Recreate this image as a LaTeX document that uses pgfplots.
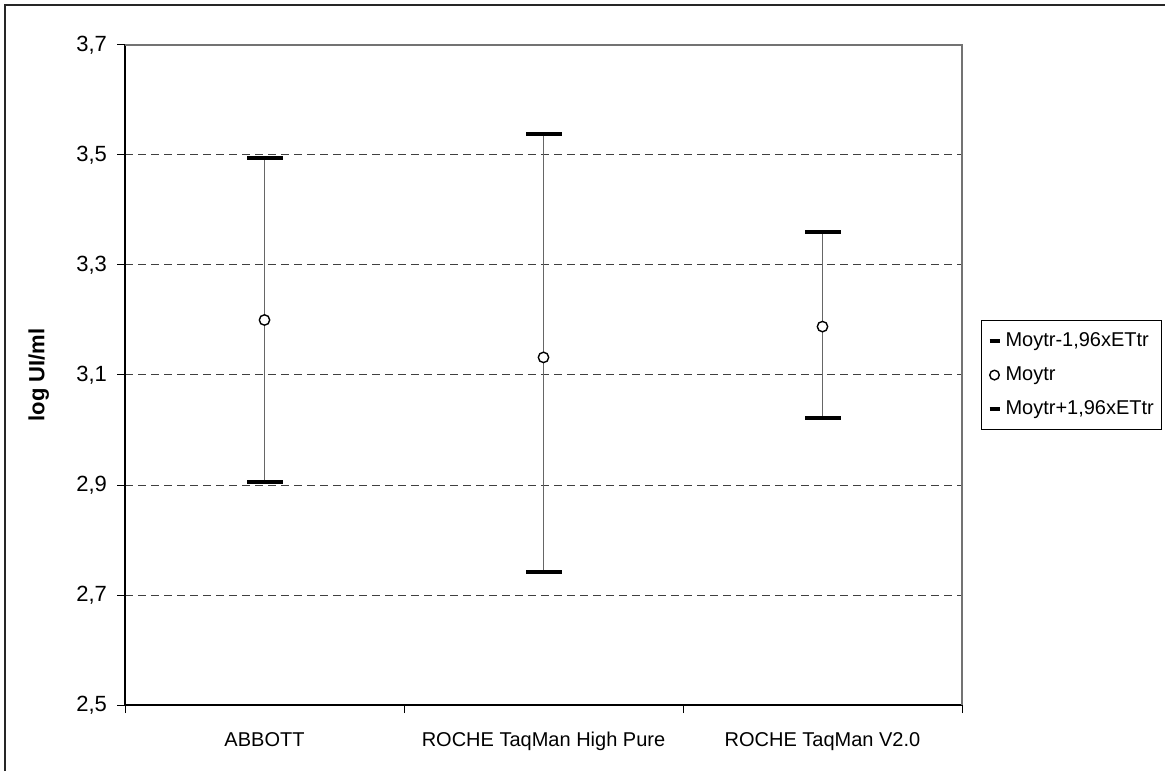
\documentclass[border=0pt]{standalone}
\usepackage{fontspec}
\setmainfont{Liberation Sans}
\usepackage{pgfplots}
\usepackage{pgfplotstable}
\pgfplotsset{compat=1.18}
\pgfplotstableread{
x lo mean hi ep em
0 2.906 3.200 3.495 0.295 0.294
1 2.742 3.132 3.539 0.407 0.390
2 3.021 3.188 3.360 0.172 0.167
}\data
\begin{document}
\begin{tikzpicture}[x=1pt,y=1pt]
\path[use as bounding box] (0,0) rectangle (582.5,385.5);
\draw[line width=0.8pt, black!85] (2.5,0) -- (2.5,383) -- (582.5,383);
\begin{axis}[
  at={(62.5pt,33pt)}, anchor=south west,
  scale only axis, width=418.5pt, height=330pt,
  xmin=-0.5, xmax=2.5, ymin=2.5, ymax=3.7,
  axis x line=bottom, axis y line=left,
  axis line style={-, black, line width=0.6pt},
  tick align=outside,
  major tick length=4pt,
  xtick={-0.5,0.5,1.5,2.5}, xticklabels={},
  tick style={black, line width=0.5pt},
  extra x ticks={0,1,2},
  extra x tick labels={ABBOTT, ROCHE TaqMan High Pure, ROCHE TaqMan V2.0},
  extra x tick style={tick style={draw=none},
    ticklabel style={yshift=-6pt}},
  xticklabel style={font=\fontsize{10}{12}\selectfont},
  ytick={2.5,2.7,2.9,3.1,3.3,3.5,3.7},
  yticklabel style={font=\fontsize{11}{13}\selectfont, xshift=-1.5pt,
    /pgf/number format/.cd, fixed, fixed zerofill, precision=1, use comma, assume math mode=true},
  ymajorgrids,
  grid style={black!75, line width=0.5pt, dash pattern=on 4pt off 2.5pt},
  ylabel={\bfseries log UI/ml},
  ylabel style={font=\fontsize{11}{13}\selectfont, at={(axis description cs:-0.103,0.5)}, anchor=center},
  legend style={at={(axis description cs:1.0227,0.583)}, anchor=north west,
    draw=black, line width=0.5pt, font=\fontsize{10}{12}\selectfont,
    row sep=4.5pt, inner xsep=3pt, inner ysep=4pt, text width=73pt},
  legend cell align=left,
  clip=false,
]
\draw[black!55, line width=0.6pt] (rel axis cs:0,1) -- (rel axis cs:1,1) -- (rel axis cs:1,0);
\addplot[forget plot, mark=none, draw=none,
  error bars/.cd, y dir=both, y explicit, error mark=none,
  error bar style={draw=black!60, line width=0.6pt, solid}]
  table[x=x, y=mean, y error plus=ep, y error minus=em] {\data};
\addplot[only marks, mark=-, mark size=9pt, mark options={line width=2pt, black},
  legend image code/.code={\draw[line width=2pt, black] (0pt,0pt) -- (5pt,0pt);}]
  table[x=x, y=lo] {\data};
\addlegendentry{Moytr-1,96xETtr}
\addplot[only marks, mark=*, mark size=2.6pt, mark options={line width=0.7pt, draw=black, fill=white},
  legend image code/.code={\draw[line width=0.7pt, black, fill=white] (2.5pt,0pt) circle (2.4pt);}]
  table[x=x, y=mean] {\data};
\addlegendentry{Moytr}
\addplot[only marks, mark=-, mark size=9pt, mark options={line width=2pt, black},
  legend image code/.code={\draw[line width=2pt, black] (0pt,0pt) -- (5pt,0pt);}]
  table[x=x, y=hi] {\data};
\addlegendentry{Moytr+1,96xETtr}
\end{axis}
\end{tikzpicture}
\end{document}
